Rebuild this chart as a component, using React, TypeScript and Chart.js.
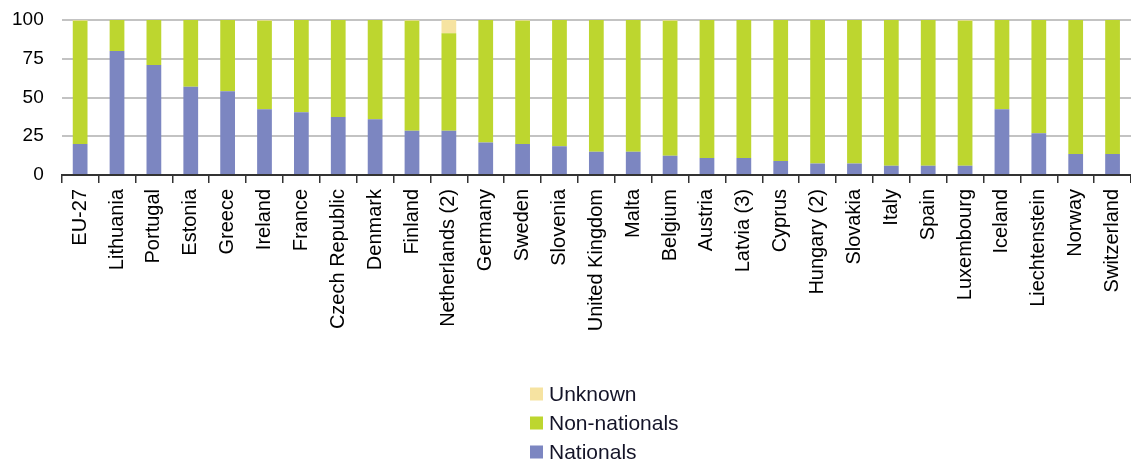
import React, { useEffect, useRef } from "react";
import { Chart, registerables } from "chart.js";

Chart.register(...registerables);

const categories = [
  "EU-27", "Lithuania", "Portugal", "Estonia", "Greece", "Ireland", "France",
  "Czech Republic", "Denmark", "Finland", "Netherlands (2)", "Germany", "Sweden",
  "Slovenia", "United Kingdom", "Malta", "Belgium", "Austria", "Latvia (3)",
  "Cyprus", "Hungary (2)", "Slovakia", "Italy", "Spain", "Luxembourg", "Iceland",
  "Liechtenstein", "Norway", "Switzerland",
];

const nationals = [
  20, 80, 71, 57, 54, 42.5, 40.5, 37.5, 36, 28.5, 28.5, 21, 20, 18.5, 15, 15,
  12.5, 11, 11, 9, 7.5, 7.5, 6, 6, 6, 42.5, 27, 13.5, 13.5,
];

const nonNationals = [
  79.5, 20, 29, 43, 46, 57, 59.5, 62.5, 64, 71, 63, 79, 79.5, 81.5, 85, 85,
  87, 89, 89, 91, 92.5, 92.5, 94, 94, 93.5, 57.5, 73, 86.5, 86.5,
];

const unknown = [
  0.5, 0, 0, 0, 0, 0.5, 0, 0, 0, 0.5, 8.5, 0, 0.5, 0, 0, 0,
  0.5, 0, 0, 0, 0, 0, 0, 0, 0.5, 0, 0, 0, 0,
];

const yTicks = [0, 25, 50, 75, 100];

const COLORS = {
  nationals: "#7C86C1",
  nonNationals: "#BDD62F",
  unknown: "#F6E3A1",
};

const FONT = '"Liberation Sans", Arial, sans-serif';

const legendPlugin = {
  id: "stackedLegend",
  afterDraw(chart: any) {
    const ctx = chart.ctx;
    const items = [...chart.data.datasets].reverse();
    ctx.save();
    ctx.font = `21px ${FONT}`;
    ctx.textBaseline = "middle";
    ctx.textAlign = "left";
    items.forEach((ds: any, i: number) => {
      const y = 394 + i * 29;
      ctx.fillStyle = ds.backgroundColor;
      ctx.fillRect(530, y - 6.5, 13, 13);
      ctx.fillStyle = "#141428";
      ctx.fillText(ds.label, 549, y + 1);
    });
    ctx.restore();
  },
};

export default function App() {
  const canvasRef = useRef<HTMLCanvasElement | null>(null);

  useEffect(() => {
    if (!canvasRef.current) return;
    const chart = new Chart(canvasRef.current, {
      type: "bar",
      data: {
        labels: categories,
        datasets: [
          { label: "Nationals", data: nationals, backgroundColor: COLORS.nationals },
          { label: "Non-nationals", data: nonNationals, backgroundColor: COLORS.nonNationals },
          { label: "Unknown", data: unknown, backgroundColor: COLORS.unknown },
        ],
      },
      options: {
        animation: false,
        responsive: false,
        maintainAspectRatio: false,
        datasets: { bar: { categoryPercentage: 0.8, barPercentage: 0.5 } },
        layout: { padding: { top: 20, left: -6, right: 0, bottom: 117 } },
        plugins: {
          legend: { display: false },
          tooltip: { enabled: false },
        },
        scales: {
          x: {
            stacked: true,
            afterFit: (scale: any) => {
              scale.paddingLeft = 0;
              scale.paddingRight = 0;
              scale.height = 170;
            },
            grid: {
              offset: true,
              drawOnChartArea: false,
              drawTicks: true,
              tickLength: 8,
              color: "#333",
              lineWidth: 1.5,
            },
            border: { display: true, color: "#333", width: 2 },
            ticks: {
              minRotation: 90,
              maxRotation: 90,
              autoSkip: false,
              padding: 6,
              color: "#000",
              font: { family: FONT, size: 20 },
            },
          },
          y: {
            stacked: true,
            min: 0,
            max: 100,
            afterBuildTicks: (scale: any) => {
              scale.ticks = yTicks.map((v) => ({ value: v }));
            },
            afterFit: (scale: any) => {
              scale.paddingTop = 0;
              scale.paddingBottom = 0;
            },
            grid: { color: "#C3C3C3", lineWidth: 2, drawTicks: false },
            border: { display: false },
            ticks: {
              padding: 18,
              color: "#000",
              font: { family: FONT, size: 19 },
            },
          },
        },
      },
      plugins: [legendPlugin],
    });
    return () => chart.destroy();
  }, []);

  return (
    <div style={{ position: "absolute", left: 0, top: 0, width: 1131, height: 462, background: "#fff" }}>
      <canvas ref={canvasRef} width={1131} height={462} style={{ width: 1131, height: 462 }} />
    </div>
  );
}
